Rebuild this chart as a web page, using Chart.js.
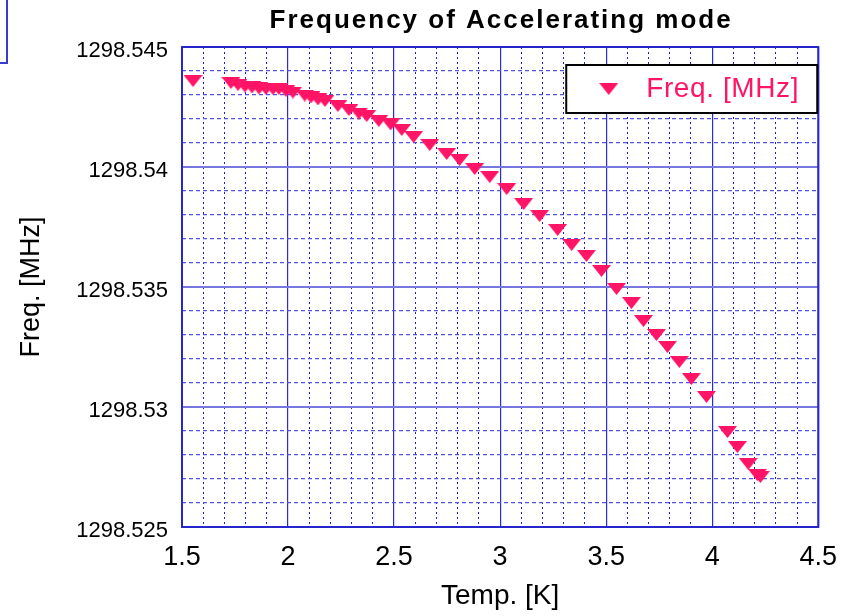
<!DOCTYPE html>
<html>
<head>
<meta charset="utf-8">
<script src="https://cdn.jsdelivr.net/npm/chart.js@4.4.0/dist/chart.umd.min.js"></script>
<style>
  html, body { margin:0; padding:0; background:#fff; }
  #wrap { width:851px; height:616px; }
</style>
</head>
<body>
<div id="wrap"><canvas id="freqChart" width="851" height="616"></canvas></div>
<script>
const FONT = '"Liberation Sans", Arial, sans-serif';

const chartTitle = "Frequency of Accelerating mode";
const seriesName = "Freq. [MHz]";
const xTitle = "Temp. [K]";
const yTitle = "Freq. [MHz]";

// temperature [K]
const temps = [
  1.552, 1.731, 1.764, 1.797, 1.830, 1.863, 1.896, 1.929, 1.957, 1.990,
  2.023, 2.079, 2.108, 2.141, 2.174, 2.235, 2.287, 2.334, 2.371, 2.428,
  2.484, 2.536, 2.592, 2.668, 2.748, 2.809, 2.880, 2.951, 3.031, 3.111,
  3.186, 3.271, 3.337, 3.407, 3.478, 3.549, 3.619, 3.676, 3.737, 3.789,
  3.845, 3.902, 3.973, 4.072, 4.119, 4.170, 4.213, 4.227
];

// frequency [MHz]
const freqs = [
  1298.543583, 1298.543500, 1298.543417, 1298.543354, 1298.543313, 1298.543271, 1298.543250, 1298.543250, 1298.543250, 1298.543167,
  1298.543104, 1298.542979, 1298.542896, 1298.542813, 1298.542750, 1298.542542, 1298.542375, 1298.542229, 1298.542125, 1298.541917,
  1298.541771, 1298.541542, 1298.541250, 1298.540917, 1298.540542, 1298.540292, 1298.539917, 1298.539583, 1298.539083, 1298.538458,
  1298.537958, 1298.537375, 1298.536750, 1298.536292, 1298.535667, 1298.534917, 1298.534333, 1298.533583, 1298.533000, 1298.532500,
  1298.531875, 1298.531167, 1298.530417, 1298.528958, 1298.528333, 1298.527625, 1298.527167, 1298.527083
];

const xRange = [1.5, 4.5];
const yRange = [1298.525, 1298.545];

const PINK = "#ff1466";

// flat downward triangle marker
function makeMarker(w, h){
  const c = document.createElement("canvas");
  c.width = w; c.height = h;
  const g = c.getContext("2d");
  g.fillStyle = PINK;
  g.beginPath();
  g.moveTo(0, 0);
  g.lineTo(w, 0);
  g.lineTo(w/2, h);
  g.closePath();
  g.fill();
  return c;
}
const marker = makeMarker(19, 12);

const xMajor = v => Math.round(v * 10) % 5 === 0;
const yMajor = v => Math.round(v * 1000) % 5 === 0;

const decor = {
  id: "decor",
  afterDraw(chart){
    const ctx = chart.ctx;
    const a = chart.chartArea;
    ctx.save();

    // leftover blue box in the corner
    ctx.strokeStyle = "#3a3acc";
    ctx.lineWidth = 2;
    ctx.strokeRect(-20, -20, 27, 83);

    // plot frame
    ctx.strokeStyle = "#2626cc";
    ctx.lineWidth = 2;
    ctx.strokeRect(a.left, a.top, a.right - a.left, a.bottom - a.top);

    // title
    ctx.fillStyle = "#000";
    ctx.font = "bold 26px " + FONT;
    ctx.letterSpacing = "2px";
    ctx.textAlign = "center";
    ctx.textBaseline = "middle";
    ctx.fillText(chartTitle, (a.left + a.right) / 2 + 1, 21);
    ctx.letterSpacing = "0px";

    // legend box
    const lx = a.right - 252, ly = a.top + 18, lw = 251, lh = 48;
    ctx.fillStyle = "#fff";
    ctx.fillRect(lx, ly, lw, lh);
    ctx.strokeStyle = "#000";
    ctx.lineWidth = 2;
    ctx.strokeRect(lx, ly, lw, lh);
    ctx.drawImage(marker, lx + 33, ly + 18);
    ctx.fillStyle = PINK;
    ctx.font = "28px " + FONT;
    ctx.letterSpacing = "0.6px";
    ctx.textAlign = "left";
    ctx.fillText(chart.data.datasets[0].label, lx + 80, ly + 24);
    ctx.letterSpacing = "0px";

    ctx.restore();
  }
};

new Chart(document.getElementById("freqChart"), {
  type: "scatter",
  data: {
    datasets: [{
      label: seriesName,
      data: temps.map((t, i) => ({ x: t, y: freqs[i] })),
      pointStyle: marker,
      showLine: false
    }]
  },
  options: {
    responsive: false,
    animation: false,
    events: [],
    devicePixelRatio: 1,
    layout: { padding: { left: 0, top: 47, right: 32, bottom: 0 } },
    plugins: { legend: { display: false }, tooltip: { enabled: false } },
    scales: {
      x: {
        type: "linear",
        min: xRange[0], max: xRange[1],
        afterFit: s => { s.height = 89; },
        ticks: {
          stepSize: 0.1,
          autoSkip: false,
          maxRotation: 0,
          padding: 14,
          color: "#000",
          font: { family: FONT, size: 27 },
          callback: v => xMajor(v) ? String(Math.round(v * 10) / 10) : ""
        },
        grid: {
          drawTicks: false,
          color: c => xMajor(c.tick.value) ? "#2a2ad8" : "#1a1aee",
          lineWidth: c => xMajor(c.tick.value) ? 1.2 : 1
        },
        border: { display: false, dash: c => xMajor(c.tick.value) ? [] : [2, 3] },
        title: {
          display: true, text: xTitle, color: "#000",
          font: { family: FONT, size: 28 },
          padding: { top: 0, bottom: 3 }
        }
      },
      y: {
        type: "linear",
        min: yRange[0], max: yRange[1],
        afterFit: s => { s.width = 182; },
        ticks: {
          stepSize: 0.001,
          autoSkip: false,
          padding: 14,
          labelOffset: 4,
          color: "#000",
          font: { family: FONT, size: 22 },
          callback: v => yMajor(v) ? String(Math.round(v * 1000) / 1000) : ""
        },
        grid: {
          drawTicks: false,
          color: c => yMajor(c.tick.value) ? "#7777e0" : "#5555dd",
          lineWidth: c => yMajor(c.tick.value) ? 2 : 1.2
        },
        border: { display: false, dash: c => yMajor(c.tick.value) ? [] : [4, 3] },
        title: {
          display: true, text: yTitle, color: "#000",
          font: { family: FONT, size: 27 },
          padding: { top: 15, bottom: 0 }
        }
      }
    }
  },
  plugins: [decor]
});
</script>
</body>
</html>
